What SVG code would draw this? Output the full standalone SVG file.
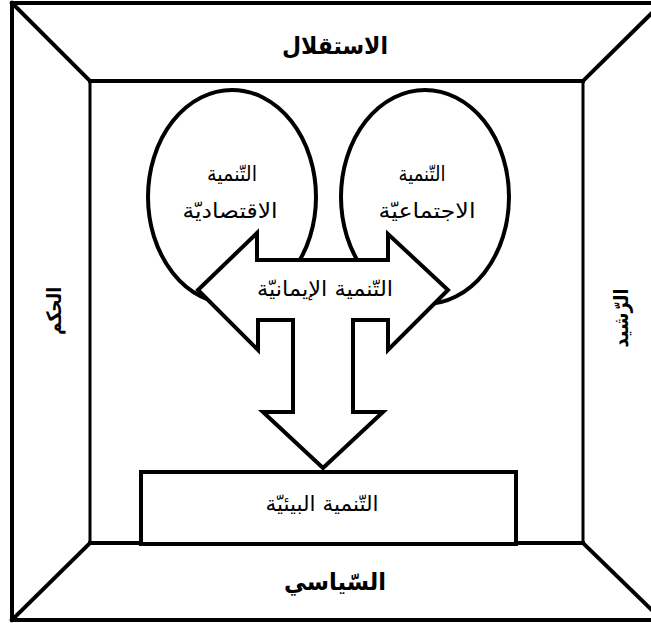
<svg xmlns="http://www.w3.org/2000/svg" width="651" height="623" viewBox="0 0 651 623">
<style>
.ln{stroke:#000;stroke-width:4;fill:none;stroke-linecap:square}
.sh{stroke:#000;stroke-width:4;fill:#fff;stroke-linejoin:miter}
.t{font-family:"DejaVu Sans","Liberation Sans",sans-serif;font-size:21px;fill:#000;text-anchor:middle}
.b{font-family:"DejaVu Sans","Liberation Sans",sans-serif;font-size:24px;font-weight:bold;fill:#000;text-anchor:middle}
.r{font-size:20px}
</style>
<rect width="651" height="623" fill="#fff"/>
<g id="frame">
<rect x="12" y="3" width="650" height="617" class="ln"/>
<line x1="12" y1="3" x2="90" y2="81" class="ln"/>
<line x1="662" y1="3" x2="583" y2="81" class="ln"/>
<line x1="12" y1="620" x2="90" y2="543" class="ln"/>
<line x1="662" y1="620" x2="583" y2="543" class="ln"/>
<line x1="90" y1="81" x2="583" y2="81" class="ln"/>
<line x1="90" y1="543" x2="583" y2="543" class="ln"/>
<line x1="90" y1="81" x2="90" y2="543" class="ln" style="stroke-width:3"/>
<line x1="583" y1="81" x2="583" y2="543" class="ln" style="stroke-width:3"/>
</g>
<g id="label-top"><text x="335" y="54" class="b" textLength="106" lengthAdjust="spacingAndGlyphs">الاستقلال</text></g>
<g id="label-bottom"><text x="335" y="590" class="b" textLength="102" lengthAdjust="spacingAndGlyphs">السّياسي</text></g>
<g id="label-left"><text transform="translate(54,311) rotate(-90)" dominant-baseline="central" class="b r" textLength="48" lengthAdjust="spacingAndGlyphs">الحكم</text></g>
<g id="label-right"><text transform="translate(621,318) rotate(-90)" dominant-baseline="central" class="b r" textLength="59" lengthAdjust="spacingAndGlyphs">الرّشيد</text></g>
<g id="economic">
<ellipse cx="232" cy="197" rx="84" ry="107" class="sh"/>
<text x="232" y="181" class="t" textLength="50" lengthAdjust="spacingAndGlyphs">التّنمية</text>
<text x="230" y="218" class="t" textLength="95" lengthAdjust="spacingAndGlyphs">الاقتصاديّة</text>
</g>
<g id="social">
<ellipse cx="425" cy="197" rx="84" ry="107" class="sh"/>
<text x="422" y="181" class="t" textLength="47" lengthAdjust="spacingAndGlyphs">التّنمية</text>
<text x="427" y="218" class="t" textLength="97" lengthAdjust="spacingAndGlyphs">الاجتماعيّة</text>
</g>
<g id="connectors">
<polygon class="sh" points="198,290 257,233 257,260 388,260 388,234 448,290 388,350 388,320 353,320 353,412 383,412 323,468 263,412 293,412 293,320 258,320 258,350"/>
</g>
<g id="faith">
<text x="325" y="296" class="t" textLength="136" lengthAdjust="spacingAndGlyphs">التّنمية الإيمانيّة</text>
</g>
<g id="environmental">
<rect x="141" y="472" width="375" height="72" class="sh"/>
<text x="322" y="511" class="t" textLength="113" lengthAdjust="spacingAndGlyphs">التّنمية البيئيّة</text>
</g>
</svg>
